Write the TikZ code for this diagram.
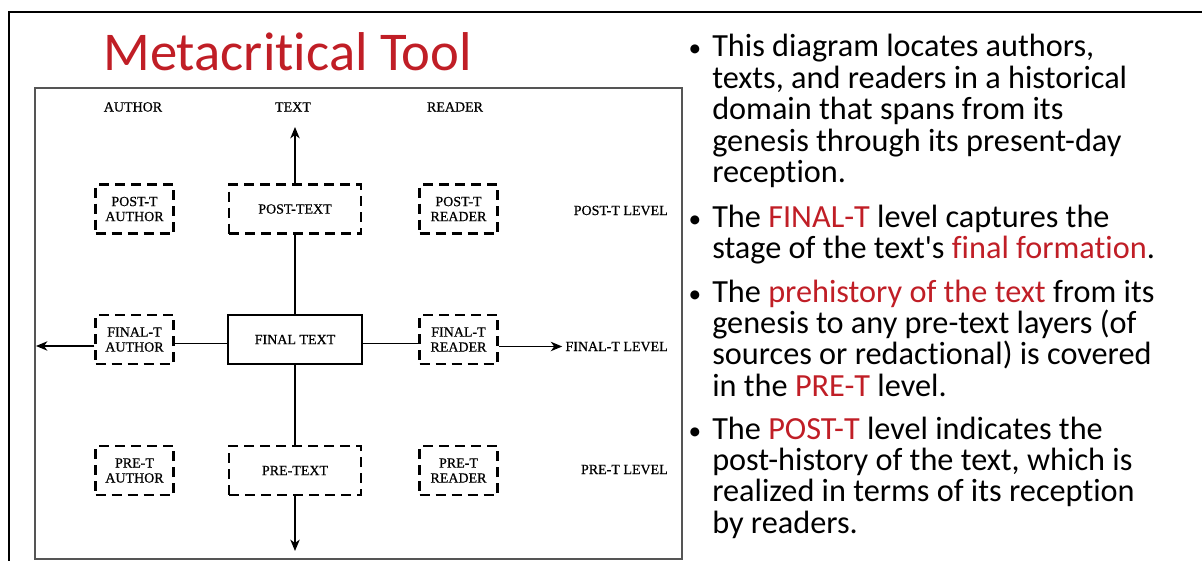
\documentclass[tikz,border=0pt]{standalone}
\usepackage{fontspec}
\setmainfont{Carlito}[Ligatures={NoCommon}]
\newfontfamily\scanfont{Liberation Serif}[FakeBold=0.7]
\usetikzlibrary{arrows.meta,calc}
\definecolor{slidered}{RGB}{192,30,38}
\definecolor{framegray}{RGB}{85,85,85}
\begin{document}
\begin{tikzpicture}[x=0.75pt,y=-0.75pt,
  scantext/.style={font=\scanfont\fontsize{10.5}{11.25}\selectfont, inner sep=0pt},
  dbox/.style={scantext, draw, line width=1.6pt, dash pattern=on 7.5pt off 4.5pt, align=center, minimum height=36.75pt},
  smallbox/.style={dbox, minimum width=58.5pt},
  widebox/.style={dbox, minimum width=99pt},
  solidbox/.style={scantext, draw, line width=1.6pt, minimum width=100pt, minimum height=36.75pt, align=center},
  thinline/.style={line width=0.8pt},
  arrowline/.style={line width=1.3pt, -{Stealth[length=8.5pt,width=7pt,inset=2.5pt]}},
  bodytext/.style={anchor=base west, inner sep=0pt, font=\fontsize{24.2}{23.55}\selectfont},
  bulletdot/.style={anchor=base, inner sep=0pt, font=\fontsize{19}{23.55}\selectfont}
]
\useasboundingbox (0,0) rectangle (1202,560);
% slide frame
\draw[line width=1.5pt] (9,561) -- (9,12) -- (1203,12);
% title
\node[anchor=base west, inner sep=0pt, text=slidered, font=\fontsize{41}{49}\selectfont] (title) at (103,70) {Metacritical Tool};
% diagram frame
\draw[framegray, line width=0.8pt] (35,88) rectangle (682,559);
% column headers
\node[scantext, anchor=base] (hauthor) at (133,111.5) {AUTHOR};
\node[scantext, anchor=base] (htext) at (293,111.5) {TEXT};
\node[scantext, anchor=base] (hreader) at (455,111.5) {READER};
% post-T row
\node[smallbox] (pa) at (134.5,209) {POST-T\\AUTHOR};
\node[widebox] (pt) at (295,209) {POST-TEXT};
\node[smallbox] (pr) at (458.5,209) {POST-T\\READER};
\node[scantext, anchor=base east] (pl) at (668,215) {POST-T LEVEL};
% final-T row
\node[smallbox] (fa) at (134.5,339.5) {FINAL-T\\AUTHOR};
\node[solidbox] (ft) at (295,339.5) {FINAL TEXT};
\node[smallbox] (fr) at (458.5,339.5) {FINAL-T\\READER};
\node[scantext, anchor=base east] (fl) at (668,351) {FINAL-T LEVEL};
% pre-T row
\node[smallbox] (qa) at (134.5,470.5) {PRE-T\\AUTHOR};
\node[widebox] (qt) at (295,470.5) {PRE-TEXT};
\node[smallbox] (qr) at (458.5,470.5) {PRE-T\\READER};
\node[scantext, anchor=base east] (ql) at (668,474) {PRE-T LEVEL};
% free arrow ends
\coordinate (uptip) at (295,127);
\coordinate (downtip) at (295,551);
\coordinate (lefttip) at (36,346);
% connectors
\draw[arrowline] (pt.north) -- (uptip);
\draw[thinline] (pt.south) -- (ft.north);
\draw[thinline] (ft.south) -- (qt.north);
\draw[arrowline] (qt.south) -- (downtip);
\draw[thinline] ($(ft.west)+(0,4)$) -- ($(fa.east)+(0,4)$);
\draw[arrowline] (fa.west |- lefttip) -- (lefttip);
\draw[thinline] ($(ft.east)+(0,4)$) -- ($(fr.west)+(0,4)$);
\draw[arrowline] (fr.east |- fl.west) -- ($(fl.west)+(-3,0)$);
% bullets
\node[bulletdot] (d1) at (695,57) {•};
\node[bodytext] (b1) at (712,57) {\parbox[t]{480pt}{\raggedright This diagram locates authors,\\texts, and readers in a historical\\domain that spans from its\\genesis through its present-day\\reception.}};
\node[bulletdot] (d2) at (695,227) {•};
\node[bodytext] (b2) at (712,227) {\parbox[t]{480pt}{\raggedright The \textcolor{slidered}{FINAL-T} level captures the\\stage of the text\textquotesingle s \textcolor{slidered}{final formation}.}};
\node[bulletdot] (d3) at (695,302) {•};
\node[bodytext] (b3) at (712,302) {\parbox[t]{480pt}{\raggedright The \textcolor{slidered}{prehistory of the text} from its\\genesis to any pre-text layers (of\\sources or redactional) is covered\\in the \textcolor{slidered}{PRE-T} level.}};
\node[bulletdot] (d4) at (695,439) {•};
\node[bodytext] (b4) at (712,439) {\parbox[t]{480pt}{\raggedright The \textcolor{slidered}{POST-T} level indicates the\\post-history of the text, which is\\realized in terms of its reception\\by readers.}};
\end{tikzpicture}
\end{document}
